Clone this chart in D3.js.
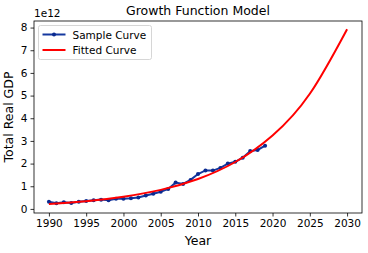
<!DOCTYPE html>
<html>
<head>
<meta charset="utf-8">
<script src="https://cdn.jsdelivr.net/npm/d3@7"></script>
<style>
  body { margin: 0; background: #fff; }
  svg { font-family: "DejaVu Sans", sans-serif; }
</style>
</head>
<body>
<div id="chart"></div>
<script>
// sample data (units of 1e12)
const years = [1990,1991,1992,1993,1994,1995,1996,1997,1998,1999,2000,2001,2002,2003,2004,
  2005,2006,2007,2008,2009,2010,2011,2012,2013,2014,2015,2016,2017,2018,2019];
const gdp = [0.32,0.25,0.29,0.26,0.32,0.35,0.38,0.41,0.38,0.45,0.45,0.47,0.50,0.59,0.67,
  0.76,0.88,1.16,1.10,1.28,1.54,1.70,1.69,1.81,2.00,2.08,2.26,2.55,2.60,2.79];
// fitted curve, read every 5 years
const fitYears = [1990,1995,2000,2005,2010,2015,2020,2025,2030];
const fitVals = [0.22,0.34,0.54,0.84,1.32,2.07,3.24,5.08,7.93];
const xTicks = [1990,1995,2000,2005,2010,2015,2020,2025,2030];
const yTicks = [0,1,2,3,4,5,6,7,8];

const W = 368, H = 253;
const margin = {top: 21, right: 6, bottom: 40, left: 34};
const width = W - margin.left - margin.right;
const height = H - margin.top - margin.bottom;

const svg = d3.select("#chart").append("svg")
    .attr("width", W)
    .attr("height", H);

const g = svg.append("g")
    .attr("transform", `translate(${margin.left},${margin.top})`);

const x = d3.scaleLinear().domain([1988, 2032]).range([0, width]);
const y = d3.scaleLinear().domain([-0.18, 8.29]).range([height, 0]);

// axes
const xAxis = g.append("g")
    .attr("transform", `translate(0,${height})`)
    .call(d3.axisBottom(x).tickValues(xTicks).tickFormat(d3.format("d")).tickSize(3.5).tickPadding(3));
const yAxis = g.append("g")
    .call(d3.axisLeft(y).tickValues(yTicks).tickSize(3.5).tickPadding(3));
[xAxis, yAxis].forEach(a => {
    a.select(".domain").remove();
    a.selectAll("text").attr("font-size", 10.5).attr("fill", "#000").attr("font-family", "DejaVu Sans");
    a.selectAll("line").attr("stroke", "#000").attr("stroke-width", 0.8);
});

// sample curve
const sample = years.map((d, i) => ({year: d, v: gdp[i]}));
g.append("path")
    .datum(sample)
    .attr("fill", "none")
    .attr("stroke", "#15389f")
    .attr("stroke-width", 2)
    .attr("d", d3.line().x(d => x(d.year)).y(d => y(d.v)));
g.selectAll(".dot")
    .data(sample)
    .enter()
    .append("circle")
    .attr("class", "dot")
    .attr("r", 2)
    .attr("fill", "#0a2a90")
    .attr("cx", d => x(d.year))
    .attr("cy", d => y(d.v));

// fitted curve
const fitData = fitYears.map((d, i) => ({year: d, v: fitVals[i]}));
const line = d3.line().x(d => x(d.year)).y(d => y(d.v));
g.append("path")
    .datum(fitData)
    .attr("fill", "none")
    .attr("stroke", "#ff0000")
    .attr("stroke-width", 2)
    .attr("d", line.curve(d3.curveNatural));

// frame
g.append("rect")
    .attr("width", width)
    .attr("height", height)
    .attr("fill", "none")
    .attr("stroke", "#000")
    .attr("stroke-width", 0.8);

// title & labels
svg.append("text")
    .attr("x", margin.left + width / 2)
    .attr("y", 15)
    .attr("text-anchor", "middle")
    .attr("font-size", 12.5)
    .text("Growth Function Model");
svg.append("text")
    .attr("x", margin.left)
    .attr("y", 17)
    .attr("font-size", 10.5)
    .text("1e12");
svg.append("text")
    .attr("x", margin.left + width / 2)
    .attr("y", H - 8)
    .attr("text-anchor", "middle")
    .attr("font-size", 12.5)
    .text("Year");
svg.append("text")
    .attr("transform", `translate(13,${margin.top + height / 2}) rotate(-90)`)
    .attr("text-anchor", "middle")
    .attr("font-size", 12.5)
    .text("Total Real GDP");

// legend
const lg = g.append("g").attr("transform", "translate(4.5,4.5)");
lg.append("rect")
    .attr("width", 113)
    .attr("height", 34)
    .attr("rx", 2)
    .attr("fill", "#fff")
    .attr("fill-opacity", 0.8)
    .attr("stroke", "#ccc")
    .attr("stroke-width", 0.8);
const entries = [
    {label: "Sample Curve", color: "#15389f", dot: true},
    {label: "Fitted Curve", color: "#ff0000", dot: false}
];
entries.forEach((e, i) => {
    const yy = 9 + i * 15.5;
    lg.append("line")
        .attr("x1", 4).attr("x2", 27)
        .attr("y1", yy).attr("y2", yy)
        .attr("stroke", e.color)
        .attr("stroke-width", 2);
    if (e.dot) {
        lg.append("circle").attr("cx", 15.5).attr("cy", yy).attr("r", 2).attr("fill", "#0a2a90");
    }
    lg.append("text")
        .attr("x", 34)
        .attr("y", yy + 4)
        .attr("font-size", 10.5)
        .text(e.label);
});
</script>
</body>
</html>
